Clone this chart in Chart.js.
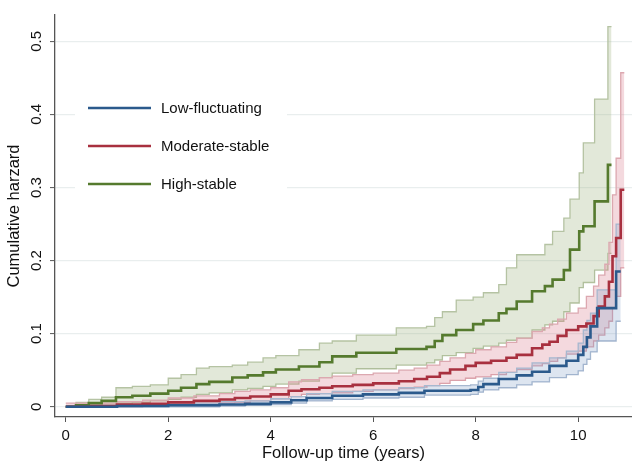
<!DOCTYPE html>
<html>
<head>
<meta charset="utf-8">
<script src="https://cdn.jsdelivr.net/npm/chart.js"></script>
<style>
  html, body { margin: 0; padding: 0; background: #fff; }
</style>
</head>
<body>
<canvas id="myChart" width="632" height="463"></canvas>
<script>
// series names + axis ticks
const seriesNames = ['Low-fluctuating', 'Moderate-stable', 'High-stable'];
const xTicks = [0, 2, 4, 6, 8, 10];
const yTicks = [0, 0.1, 0.2, 0.3, 0.4, 0.5];

// Low-fluctuating (blue)
const lowTime = [0, 0.5, 1.0, 2.0, 3.0, 3.5, 4.0, 4.4, 4.7, 5.2, 5.8, 6.5, 7.0, 7.9, 8.05, 8.15, 8.45, 8.8, 9.1, 9.44, 9.77, 10.0, 10.1, 10.17, 10.24, 10.37, 10.74, 10.83];
const lowEst = [0, 0, 0.001, 0.002, 0.003, 0.004, 0.006, 0.009, 0.012, 0.015, 0.017, 0.019, 0.022, 0.023, 0.027, 0.031, 0.038, 0.043, 0.048, 0.056, 0.063, 0.071, 0.082, 0.095, 0.110, 0.135, 0.185, 0.185];
const lowLo = [0, 0, 0, 0, 0.001, 0.002, 0.003, 0.005, 0.008, 0.010, 0.012, 0.013, 0.016, 0.017, 0.020, 0.023, 0.026, 0.030, 0.034, 0.040, 0.044, 0.049, 0.058, 0.065, 0.075, 0.090, 0.117, 0.117];
const lowHi = [0.001, 0.002, 0.003, 0.005, 0.007, 0.008, 0.011, 0.014, 0.018, 0.021, 0.023, 0.026, 0.029, 0.030, 0.035, 0.039, 0.047, 0.053, 0.060, 0.067, 0.076, 0.087, 0.105, 0.118, 0.128, 0.160, 0.250, 0.250];

// Moderate-stable (red)
const modTime = [0, 0.5, 1.0, 1.5, 2.0, 2.5, 3.0, 3.3, 3.6, 4.0, 4.35, 4.6, 4.95, 5.2, 5.6, 6.0, 6.5, 6.8, 7.05, 7.3, 7.5, 7.8, 8.0, 8.3, 8.6, 8.8, 9.1, 9.3, 9.44, 9.6, 9.77, 10.0, 10.16, 10.3, 10.4, 10.52, 10.6, 10.67, 10.74, 10.83, 10.9];
const modEst = [0, 0.001, 0.003, 0.004, 0.006, 0.008, 0.010, 0.012, 0.014, 0.017, 0.022, 0.024, 0.026, 0.028, 0.030, 0.032, 0.035, 0.038, 0.041, 0.046, 0.051, 0.056, 0.060, 0.063, 0.067, 0.071, 0.080, 0.085, 0.089, 0.097, 0.105, 0.110, 0.114, 0.124, 0.137, 0.151, 0.171, 0.206, 0.231, 0.297, 0.297];
const modLo = [0, 0, 0, 0.001, 0.002, 0.003, 0.005, 0.006, 0.008, 0.011, 0.014, 0.017, 0.018, 0.019, 0.021, 0.023, 0.025, 0.027, 0.029, 0.032, 0.036, 0.039, 0.041, 0.044, 0.047, 0.051, 0.056, 0.059, 0.062, 0.067, 0.072, 0.076, 0.082, 0.090, 0.098, 0.108, 0.117, 0.135, 0.151, 0.190, 0.190];
const modHi = [0.005, 0.005, 0.007, 0.009, 0.012, 0.015, 0.018, 0.021, 0.023, 0.026, 0.034, 0.037, 0.040, 0.042, 0.044, 0.046, 0.050, 0.053, 0.057, 0.062, 0.067, 0.073, 0.078, 0.082, 0.088, 0.094, 0.103, 0.108, 0.113, 0.120, 0.128, 0.135, 0.151, 0.165, 0.180, 0.195, 0.225, 0.290, 0.340, 0.457, 0.457];

// High-stable (green)
const highTime = [0, 0.2, 0.45, 0.7, 0.98, 1.3, 1.65, 2.0, 2.25, 2.55, 2.8, 3.25, 3.55, 3.85, 4.1, 4.55, 4.95, 5.2, 5.67, 6.45, 7.04, 7.2, 7.35, 7.62, 7.95, 8.15, 8.45, 8.6, 8.8, 9.1, 9.35, 9.5, 9.72, 9.84, 10.02, 10.1, 10.32, 10.58, 10.65];
const highEst = [0, 0.002, 0.005, 0.008, 0.013, 0.015, 0.018, 0.022, 0.026, 0.031, 0.034, 0.040, 0.043, 0.047, 0.051, 0.055, 0.061, 0.069, 0.074, 0.079, 0.082, 0.090, 0.098, 0.105, 0.113, 0.118, 0.128, 0.134, 0.144, 0.158, 0.165, 0.174, 0.187, 0.215, 0.240, 0.247, 0.281, 0.331, 0.331];
const highLo = [0, 0, 0.001, 0.002, 0.005, 0.006, 0.008, 0.010, 0.013, 0.017, 0.019, 0.023, 0.025, 0.028, 0.031, 0.035, 0.040, 0.046, 0.052, 0.057, 0.060, 0.064, 0.070, 0.074, 0.080, 0.083, 0.087, 0.091, 0.094, 0.105, 0.112, 0.117, 0.130, 0.142, 0.163, 0.170, 0.187, 0.210, 0.210];
const highHi = [0, 0.006, 0.010, 0.013, 0.026, 0.028, 0.030, 0.039, 0.044, 0.053, 0.055, 0.057, 0.061, 0.067, 0.070, 0.078, 0.087, 0.090, 0.098, 0.108, 0.110, 0.122, 0.130, 0.146, 0.150, 0.156, 0.167, 0.190, 0.208, 0.208, 0.222, 0.240, 0.258, 0.284, 0.320, 0.361, 0.421, 0.520, 0.520];

const lineColors = ['#2b5a8c', '#a8303f', '#557a2e'];
const edgeColors = ['#a7b8cf', '#dca8b0', '#b5c3a3'];
const fillColors = ['rgba(130,160,200,0.27)', 'rgba(215,120,135,0.28)', 'rgba(160,178,130,0.3)'];

function xy(t, v) {
  return t.map((x, i) => ({ x: x, y: v[i] }));
}

const groups = [
  [lowTime, lowEst, lowLo, lowHi],
  [modTime, modEst, modLo, modHi],
  [highTime, highEst, highLo, highHi]
];

let datasets = [];
// bands first (green drawn under red under blue), lines on top
[2, 1, 0].forEach((g, k) => {
  const [t, est, lo, hi] = groups[g];
  datasets.push({
    data: xy(t, lo), stepped: true, borderColor: edgeColors[g], borderWidth: 1.3,
    pointRadius: 0, fill: false, order: 30 - k * 2
  });
  datasets.push({
    data: xy(t, hi), stepped: true, borderColor: edgeColors[g], borderWidth: 1.3,
    pointRadius: 0, fill: '-1', backgroundColor: fillColors[g], order: 29 - k * 2
  });
});
[2, 1, 0].forEach((g, k) => {
  const [t, est] = groups[g];
  datasets.push({
    label: seriesNames[g], data: xy(t, est), stepped: true, borderColor: lineColors[g],
    borderWidth: 2.6, pointRadius: 0, fill: false, order: 10 - k
  });
});

const legendBox = {
  id: 'legendBox',
  afterDatasetsDraw(chart) {
    const c = chart.ctx;
    c.save();
    c.fillStyle = '#fff';
    c.fillRect(75, 84, 212, 122);
    seriesNames.forEach((name, i) => {
      const y = 108 + i * 38;
      c.strokeStyle = lineColors[i];
      c.lineWidth = 2.6;
      c.beginPath();
      c.moveTo(88, y);
      c.lineTo(151, y);
      c.stroke();
      c.fillStyle = '#111';
      c.font = '15px "Liberation Sans", Arial, sans-serif';
      c.textBaseline = 'middle';
      c.fillText(name, 161, y + 1);
    });
    c.restore();
  }
};

const ctx = document.getElementById('myChart');
new Chart(ctx, {
  type: 'line',
  data: { datasets: datasets },
  options: {
    responsive: false,
    animation: false,
    layout: { padding: { top: 15, right: 0, left: 0, bottom: 0 } },
    plugins: { legend: { display: false }, tooltip: { enabled: false } },
    scales: {
      x: {
        type: 'linear', min: -0.21, max: 11.05,
        afterBuildTicks: (s) => { s.ticks = xTicks.map(v => ({ value: v })); },
        afterFit: (s) => { s.height = 46; },
        grid: { drawOnChartArea: false, drawTicks: true, tickLength: 5, tickColor: '#555', tickWidth: 1 },
        border: { color: '#555', width: 1.3 },
        ticks: {
          padding: 5, color: '#111',
          font: { family: '"Liberation Sans", Arial, sans-serif', size: 15 },
          maxRotation: 0, minRotation: 0,
          callback: (v) => String(v)
        },
        title: {
          display: true, text: 'Follow-up time (years)', color: '#111',
          font: { family: '"Liberation Sans", Arial, sans-serif', size: 16.5 },
          padding: { top: 0, bottom: 0 }
        }
      },
      y: {
        type: 'linear', min: -0.014, max: 0.536,
        afterBuildTicks: (s) => { s.ticks = yTicks.map(v => ({ value: v })); },
        afterFit: (s) => { s.width = 55; },
        grid: { color: '#e9eeee', lineWidth: 1.2, drawTicks: true, tickLength: 5, tickColor: '#555', tickWidth: 1 },
        border: { color: '#555', width: 1.3 },
        ticks: {
          padding: 3, color: '#111', crossAlign: 'center',
          minRotation: 90, maxRotation: 90,
          font: { family: '"Liberation Sans", Arial, sans-serif', size: 15 },
          callback: (v) => String(Math.round(v * 10) / 10)
        },
        title: {
          display: true, text: 'Cumulative harzard', color: '#111',
          font: { family: '"Liberation Sans", Arial, sans-serif', size: 16.5 },
          padding: { top: 5, bottom: 0 }
        }
      }
    }
  },
  plugins: [legendBox]
});
</script>
</body>
</html>
